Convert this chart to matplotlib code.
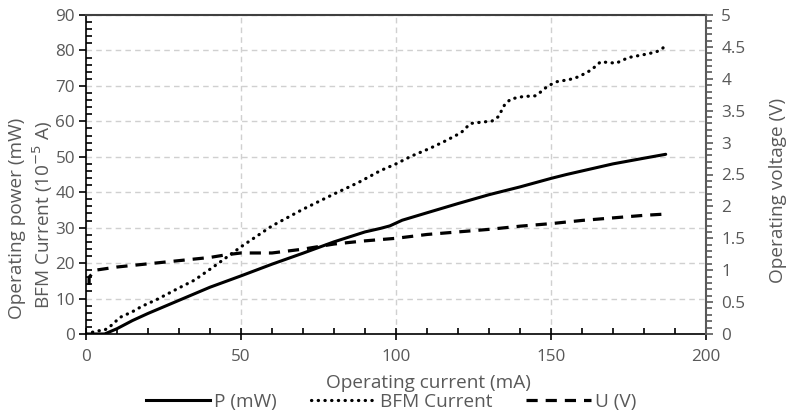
import matplotlib
matplotlib.use("Agg")
import matplotlib.pyplot as plt
from matplotlib.ticker import MultipleLocator
from matplotlib.lines import Line2D

plt.rcParams['font.family'] = ['Open Sans', 'DejaVu Sans']

# operating power P (mW) vs operating current (mA)
p_ma = [0, 3, 6, 10, 15, 20, 30, 40, 50, 60, 70, 80, 90, 95, 98, 102, 110,
        120, 130, 140, 150, 155, 160, 170, 180, 187]
p_mw = [0, 0, 0, 1.5, 3.8, 5.8, 9.5, 13.2, 16.4, 19.7, 22.8, 26, 28.8, 29.8,
        30.5, 32.1, 34.2, 36.8, 39.3, 41.5, 43.9, 45, 46, 48, 49.6, 50.7]

# BFM current (1e-5 A)
bfm_ma = [0, 2, 4, 6, 8, 11, 15, 18, 23, 30, 35, 42, 50, 60, 70, 80, 88, 95,
          100, 105, 111, 116, 121, 124, 128, 131, 133, 135, 137, 141, 145,
          147, 149, 152, 156, 159, 163, 166, 171, 175, 178, 181, 184, 186, 187]
bfm_val = [0, 0.5, 0.9, 1.1, 2.3, 4.7, 6.3, 7.8, 9.8, 13, 15.2, 19.5, 24.6,
           30.5, 35.2, 39.5, 42.8, 46.1, 48, 50.2, 52.4, 54.5, 56.8, 59.4,
           59.8, 60.1, 61.3, 64.6, 66.3, 67, 67.2, 68.5, 70, 71.2, 71.8, 72.6,
           74.5, 76.8, 76.4, 78, 78.5, 79, 79.6, 80.6, 81.5]

# operating voltage U (V)
u_ma = [1, 1, 3, 10, 20, 30, 40, 45, 50, 55, 60, 70, 80, 90, 100, 110, 120,
        130, 140, 150, 160, 170, 180, 187]
u_v = [0.77, 0.89, 1.0, 1.05, 1.1, 1.15, 1.2, 1.24, 1.27, 1.27, 1.27, 1.33,
       1.41, 1.46, 1.5, 1.56, 1.6, 1.64, 1.69, 1.73, 1.78, 1.82, 1.86, 1.88]

grey = '#595959'
tick_fs = 12.3
label_fs = 13.7

fig = plt.figure(figsize=(7.9, 4.16), dpi=100)
ax = fig.add_axes([86/790, 1 - 334/416, 620/790, 319/416])
ax2 = ax.twinx()

ax.set_xlim(0, 200)
ax.set_ylim(0, 90)
ax2.set_ylim(0, 5)

ax.xaxis.set_major_locator(MultipleLocator(50))
ax.xaxis.set_minor_locator(MultipleLocator(10))
ax.yaxis.set_major_locator(MultipleLocator(10))
ax.yaxis.set_minor_locator(MultipleLocator(2))
ax2.yaxis.set_major_locator(MultipleLocator(0.5))
ax2.yaxis.set_minor_locator(MultipleLocator(0.1))
ax2.yaxis.set_major_formatter(matplotlib.ticker.FormatStrFormatter('%g'))

ax.grid(True, which='major', color='#d0d0d0', linestyle=(0, (4, 3)), lw=1)

ax.plot(p_ma, p_mw, color='black', lw=2.2, solid_capstyle='round')
ax.plot(bfm_ma, bfm_val, color='black', lw=2.3, linestyle=(0, (0.1, 2.0)),
        dash_capstyle='round')
ax2.plot(u_ma, u_v, color='black', lw=2.3, linestyle=(0, (3.5, 2.5)))

for s in ['left', 'bottom']:
    ax.spines[s].set_color('black')
    ax.spines[s].set_linewidth(1.2)
ax.spines['top'].set_color('#404040')
ax.spines['top'].set_linewidth(1.5)
ax.spines['right'].set_visible(False)
for s in ['left', 'bottom', 'top']:
    ax2.spines[s].set_visible(False)
ax2.spines['right'].set_color(grey)
ax2.spines['right'].set_linewidth(1.5)

ax.tick_params(axis='x', which='major', direction='inout', length=9, width=1.2,
               color='black', labelcolor=grey, labelsize=tick_fs, pad=6)
ax.tick_params(axis='x', which='minor', direction='in', length=4, width=1.2,
               color='black')
ax.tick_params(axis='y', which='major', direction='out', length=5, width=1.2,
               color='black', labelcolor=grey, labelsize=tick_fs, pad=3)
ax.tick_params(axis='y', which='minor', direction='in', length=4, width=1.2,
               color='black')
ax2.tick_params(axis='y', which='major', direction='out', length=5, width=1.2,
                color=grey, labelcolor=grey, labelsize=tick_fs, pad=6)
ax2.tick_params(axis='y', which='minor', direction='out', length=4, width=1.2,
                color=grey)

fig.text(17/790, 1 - 218/416, 'Operating power (mW)', rotation=90,
         ha='center', va='center', color=grey, fontsize=label_fs)
fig.text(43/790, 1 - 215/416, 'BFM Current (10$^{-5}$ A)', rotation=90,
         ha='center', va='center', color=grey, fontsize=label_fs)
fig.text(778/790, 1 - 190/416, 'Operating voltage (V)', rotation=90,
         ha='center', va='center', color=grey, fontsize=label_fs)
fig.text(428/790, 1 - 383/416, 'Operating current (mA)', ha='center',
         va='center', color=grey, fontsize=label_fs)

handles = [
    Line2D([], [], color='black', lw=2.2),
    Line2D([], [], color='black', lw=2.3, linestyle=(0, (0.1, 2.0)),
           dash_capstyle='round'),
    Line2D([], [], color='black', lw=2.3, linestyle=(0, (3.5, 2.5))),
]
fig.legend(handles, ['P (mW)', 'BFM Current', 'U (V)'], ncol=3,
           loc='center', bbox_to_anchor=(391/790, 1 - 402/416), frameon=False,
           handlelength=3.4, columnspacing=1.8, handletextpad=0.2,
           labelcolor=grey, fontsize=label_fs, borderpad=0)

fig.savefig('out.png', dpi=100)
